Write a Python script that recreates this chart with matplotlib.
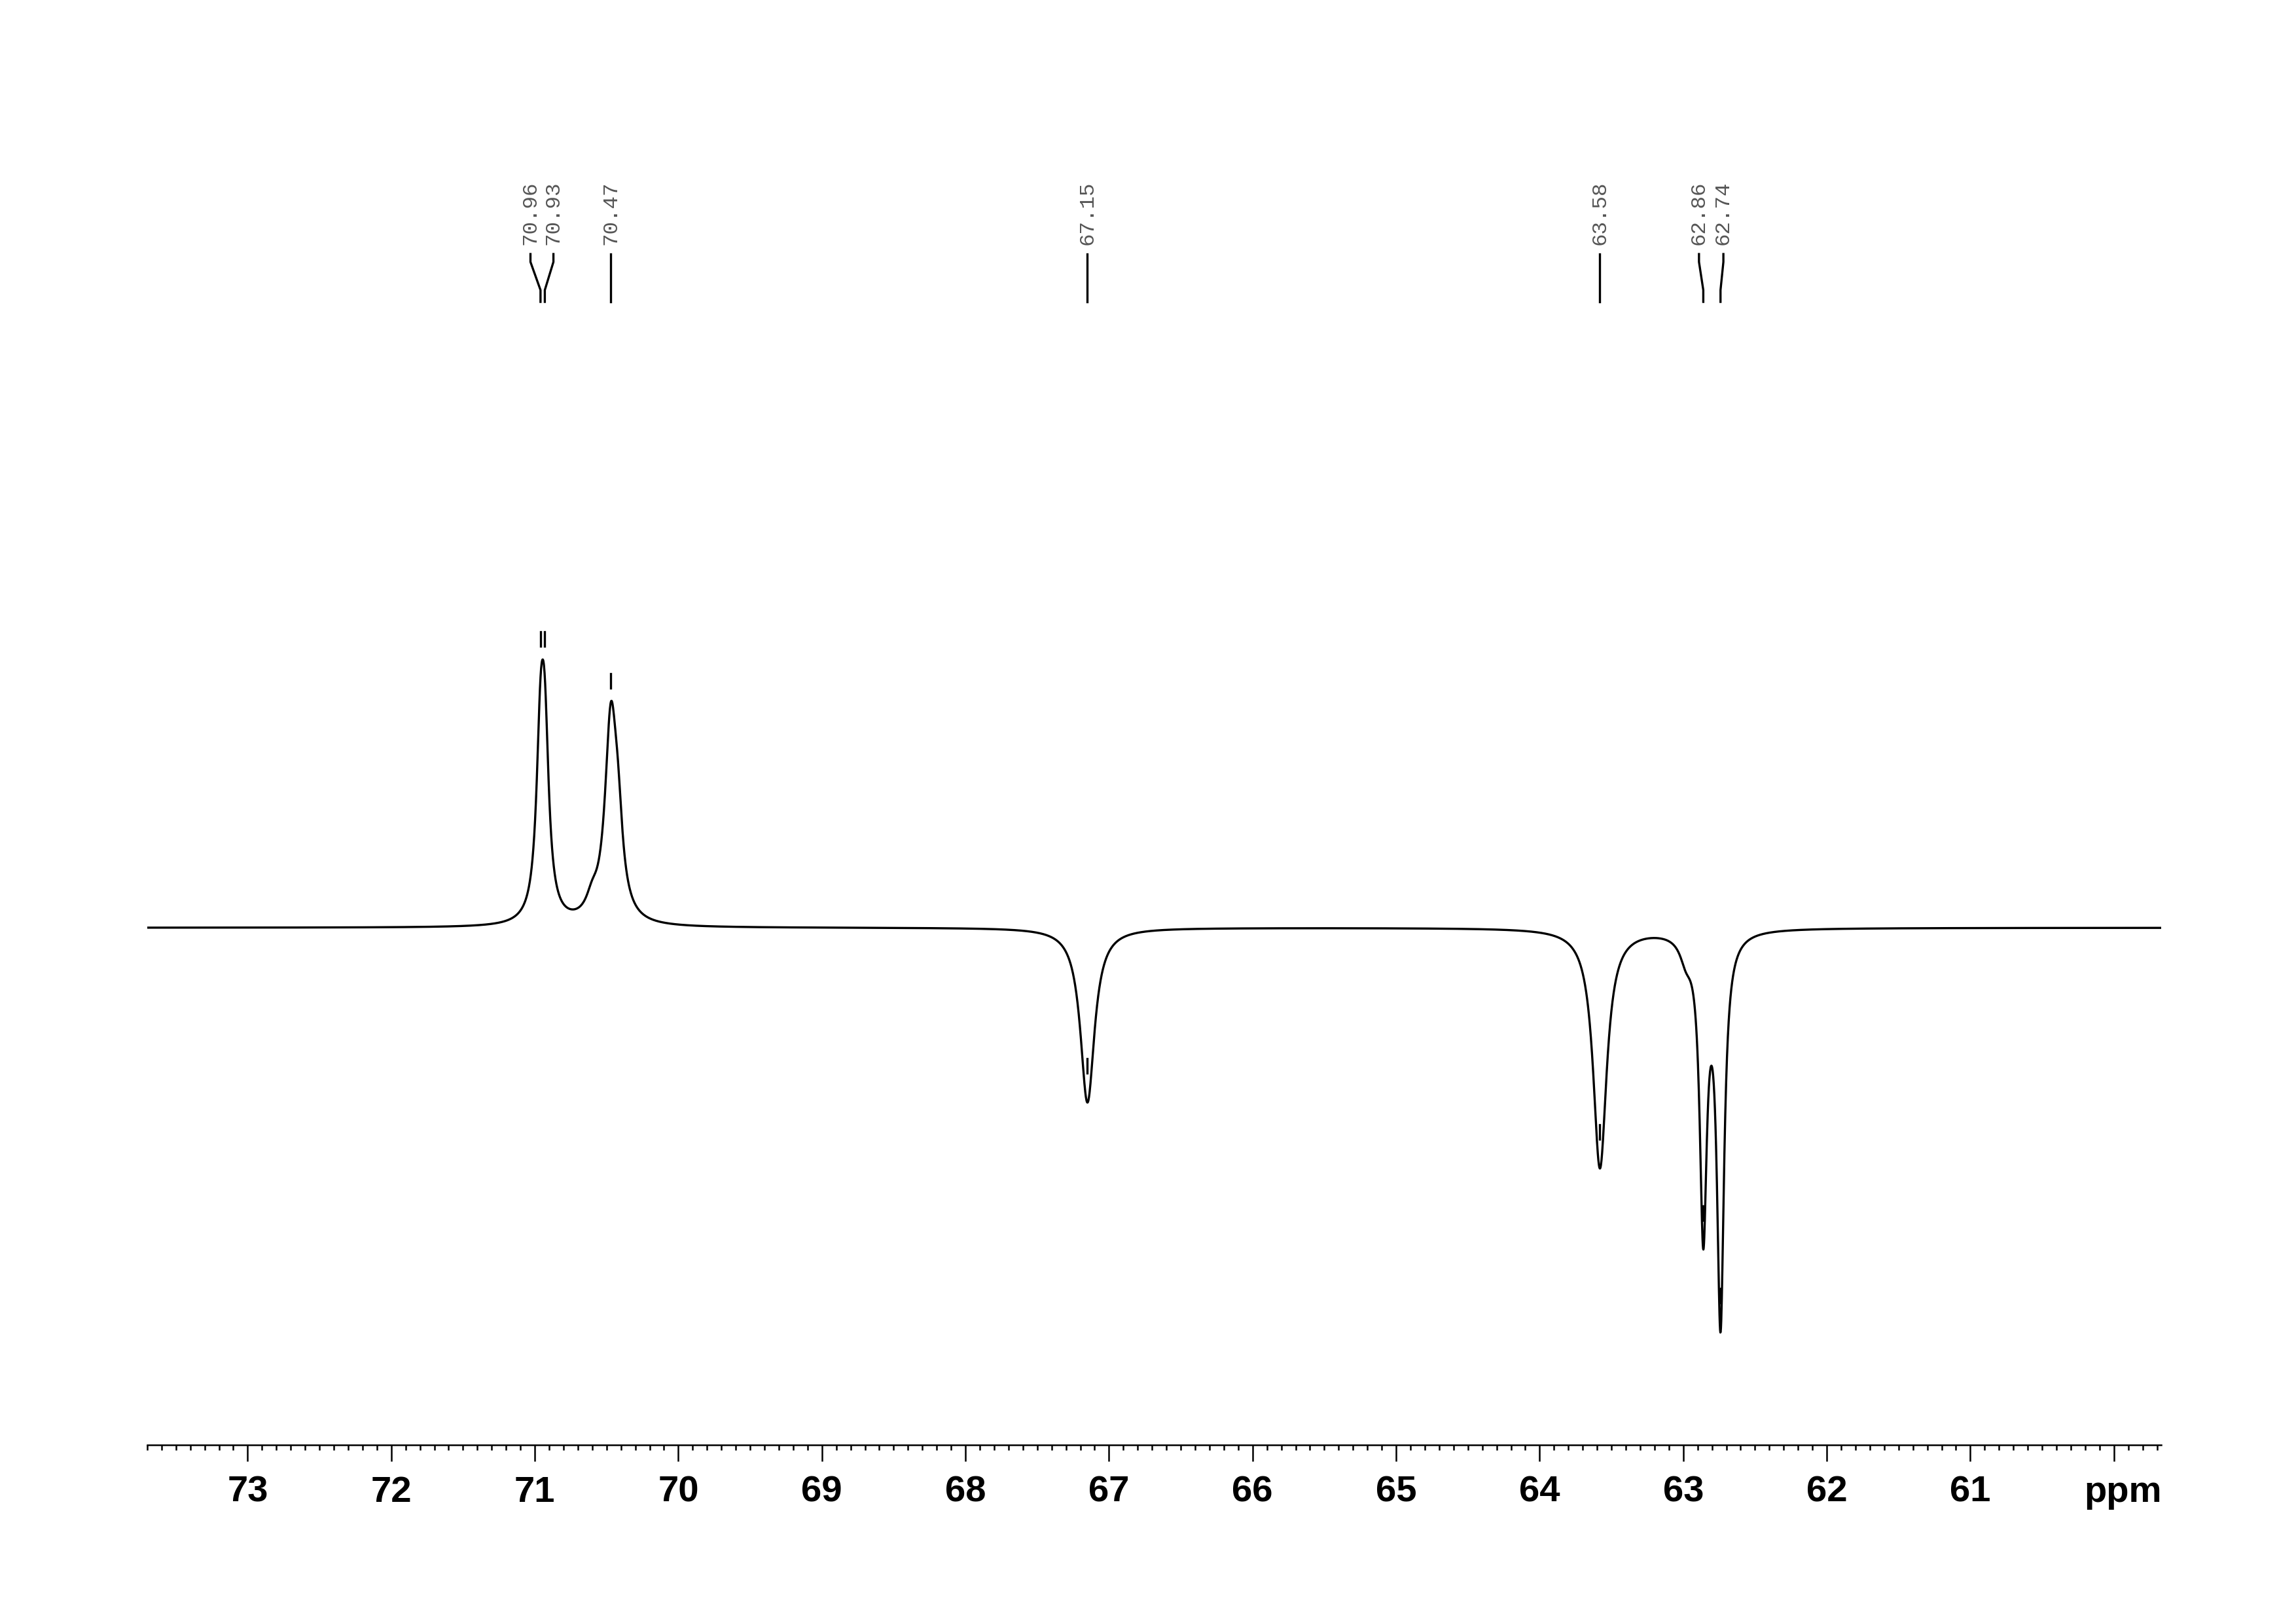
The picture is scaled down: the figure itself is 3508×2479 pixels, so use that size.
import numpy as np
import matplotlib
matplotlib.use("Agg")
import matplotlib.pyplot as plt
from matplotlib.ticker import FixedLocator, MultipleLocator

# peak table: position (ppm), height, line width (ppm)
peak_ppm = [70.96, 70.93, 70.60, 70.47, 70.42, 67.15, 63.58, 62.98, 62.86, 62.74]
peak_height = [2.40, 2.40, 0.25, 3.0, 1.0, -2.67, -3.66, -0.3, -4.5, -5.89]
peak_width = [0.07, 0.07, 0.10, 0.10, 0.08, 0.12, 0.115, 0.10, 0.06, 0.06]

# picked peaks and where their labels sit
label_ppm = [70.96, 70.93, 70.47, 67.15, 63.58, 62.86, 62.74]
label_pos = [71.03, 70.87, 70.47, 67.15, 63.58, 62.89, 62.72]

tick_values = [73, 72, 71, 70, 69, 68, 67, 66, 65, 64, 63, 62, 61]
tick_labels = ["73", "72", "71", "70", "69", "68", "67", "66", "65", "64",
               "63", "62", "61"]
unit_pos = 60

x_left, x_right = 73.70, 59.67

ppm = np.linspace(x_left, x_right, 7000)
spec = np.zeros_like(ppm)
for p, h, w in zip(peak_ppm, peak_height, peak_width):
    spec += h / (1 + (2 * (ppm - p) / w) ** 2)

plt.rcParams["font.family"] = ["Liberation Sans", "DejaVu Sans"]

fig = plt.figure(figsize=(3508 / 300, 2479 / 300), dpi=300)
ax = fig.add_axes([0.0641, 0.1097, 0.8772, 0.8096])

ax.plot(ppm, spec, color="black", linewidth=0.8)
ax.set_xlim(x_left, x_right)
ax.set_ylim(-7.90, 12.17)

# peak markers just above each picked extremum
for p in label_ppm:
    near = spec[np.abs(ppm - p) < 0.03]
    v = near.max() if near.mean() > 0 else near.min()
    lo, hi = (v + 0.20, v + 0.42) if v > 0 else (v + 0.45, v + 0.67)
    ax.plot([p, p], [lo, hi], color="black", linewidth=0.8)

# leader lines and rotated labels at the top
for p, lp in zip(label_ppm, label_pos):
    ax.plot([lp, lp, p, p], [10.29, 10.17, 9.74, 9.56], color="black",
            linewidth=0.8, clip_on=False)
    ax.text(lp, 10.43, f"{p:.2f}", rotation=90, ha="center", va="bottom",
            fontsize=7.8, family=["Liberation Mono", "DejaVu Sans Mono"],
            color="#555555")

for s in ["top", "left", "right"]:
    ax.spines[s].set_visible(False)
ax.spines["bottom"].set_linewidth(0.6)
ax.set_yticks([])

ax.xaxis.set_major_locator(FixedLocator(tick_values + [unit_pos]))
ax.set_xticklabels(tick_labels + [""], fontsize=13.5, fontweight="bold")
ax.xaxis.set_minor_locator(MultipleLocator(0.1))
ax.tick_params(axis="x", which="major", direction="out", length=6, width=0.6, pad=5.2)
ax.tick_params(axis="x", which="minor", direction="out", length=2, width=0.6)

ax.annotate("ppm", xy=(unit_pos, 0), xycoords=("data", "axes fraction"),
            xytext=(3.4, -11.2), textcoords="offset points", ha="center", va="top",
            fontsize=13.5, fontweight="bold")

fig.savefig("out.png", dpi=300, facecolor="white")
